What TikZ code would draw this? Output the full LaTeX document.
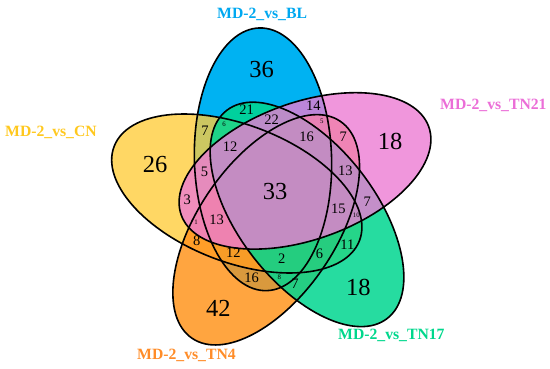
\documentclass[tikz,border=0pt]{standalone}
\usepackage{fontspec}
\setmainfont{Liberation Serif}
\begin{document}
\begin{tikzpicture}[x=1pt,y=-1pt]
\definecolor{cB}{RGB}{0,178,242}
\definecolor{cY}{RGB}{255,205,61}
\definecolor{cO}{RGB}{255,149,30}
\definecolor{cG}{RGB}{0,214,143}
\definecolor{cP}{RGB}{236,124,211}
\definecolor{tB}{RGB}{0,168,240}
\definecolor{tY}{RGB}{255,200,30}
\definecolor{tO}{RGB}{255,140,40}
\definecolor{tG}{RGB}{0,215,140}
\definecolor{tP}{RGB}{235,110,215}
\tikzset{
  vline/.style={draw=black, line width=1.6pt},
  eB/.style={shift={(263.0,159.3)}, rotate=91.6},
  eY/.style={shift={(236.8,193.5)}, rotate=159},
  eO/.style={shift={(266.2,229.8)}, rotate=-124.4},
  eG/.style={shift={(307.0,214.4)}, rotate=-52.4},
  eP/.style={shift={(305.0,170.9)}, rotate=19.6},
  setname/.style={font=\bfseries\fontsize{15.7}{15.7}\selectfont, inner sep=0, anchor=base west},
  big/.style={font=\fontsize{24.5}{24.5}\selectfont, inner sep=0},
  num/.style={font=\fontsize{14.5}{14.5}\selectfont, inner sep=0},
  tiny/.style={font=\fontsize{6.8}{6.8}\selectfont, inner sep=0}
}
\def\vell{(0,0) ellipse [x radius=131.4, y radius=68.6]}
\useasboundingbox (0,0) rectangle (550,369);
% fills
\path[eB, fill=cB] \vell;
\path[eY, fill=cY, fill opacity=0.8] \vell;
\path[eO, fill=cO, fill opacity=0.85] \vell;
\path[eG, fill=cG, fill opacity=0.85] \vell;
\path[eP, fill=cP, fill opacity=0.8] \vell;
% outlines
\path[eB, vline] \vell;
\path[eY, vline] \vell;
\path[eO, vline] \vell;
\path[eG, vline] \vell;
\path[eP, vline] \vell;
% set names
\node[setname, text=tB] (lBL) at (217,18.5) {MD-2\_vs\_BL};
\node[setname, text=tP] (lTN21) at (440,110) {MD-2\_vs\_TN21};
\node[setname, text=tY] (lCN) at (5,137) {MD-2\_vs\_CN};
\node[setname, text=tO] (lTN4) at (137,359) {MD-2\_vs\_TN4};
\node[setname, text=tG] (lTN17) at (338,339) {MD-2\_vs\_TN17};
% unique counts
\node[big] (n36) at (261.7,70) {36};
\node[big] (n18a) at (390,141.7) {18};
\node[big] (n18b) at (358.3,287) {18};
\node[big] (n42) at (218.3,308) {42};
\node[big] (n26) at (155,165) {26};
\node[big] (n33) at (275,192) {33};
% intersections
\node[num] (n21) at (246.7,110) {21};
\node[num] (n14) at (313.3,105.5) {14};
\node[num] (n22) at (271.7,119.3) {22};
\node[num] (n7a) at (205,130.5) {7};
\node[num] (n16a) at (306.7,136.5) {16};
\node[num] (n7b) at (343.3,136.7) {7};
\node[num] (n12a) at (230,146.5) {12};
\node[num] (n13a) at (345.3,170.3) {13};
\node[num] (n5) at (204.5,172.3) {5};
\node[num] (n3) at (187.3,199.3) {3};
\node[num] (n13b) at (216.7,219.3) {13};
\node[num] (n15) at (338.3,209) {15};
\node[num] (n7c) at (367.3,201.7) {7};
\node[num] (n8) at (196.7,240.7) {8};
\node[num] (n12b) at (233.3,252.7) {12};
\node[num] (n2) at (281.7,258.5) {2};
\node[num] (n6) at (319.5,253.3) {6};
\node[num] (n11) at (347.3,245) {11};
\node[num] (n16b) at (251.7,277.3) {16};
\node[num] (n7d) at (295,284) {7};
\node[tiny] (t6) at (224,124) {6};
\node[tiny] (t5) at (321.7,121.7) {5};
\node[tiny] (t1) at (196,222.7) {1};
\node[tiny] (t10) at (356.3,215.5) {10};
\node[tiny] (t8) at (279.3,277.3) {8};
\end{tikzpicture}
\end{document}
